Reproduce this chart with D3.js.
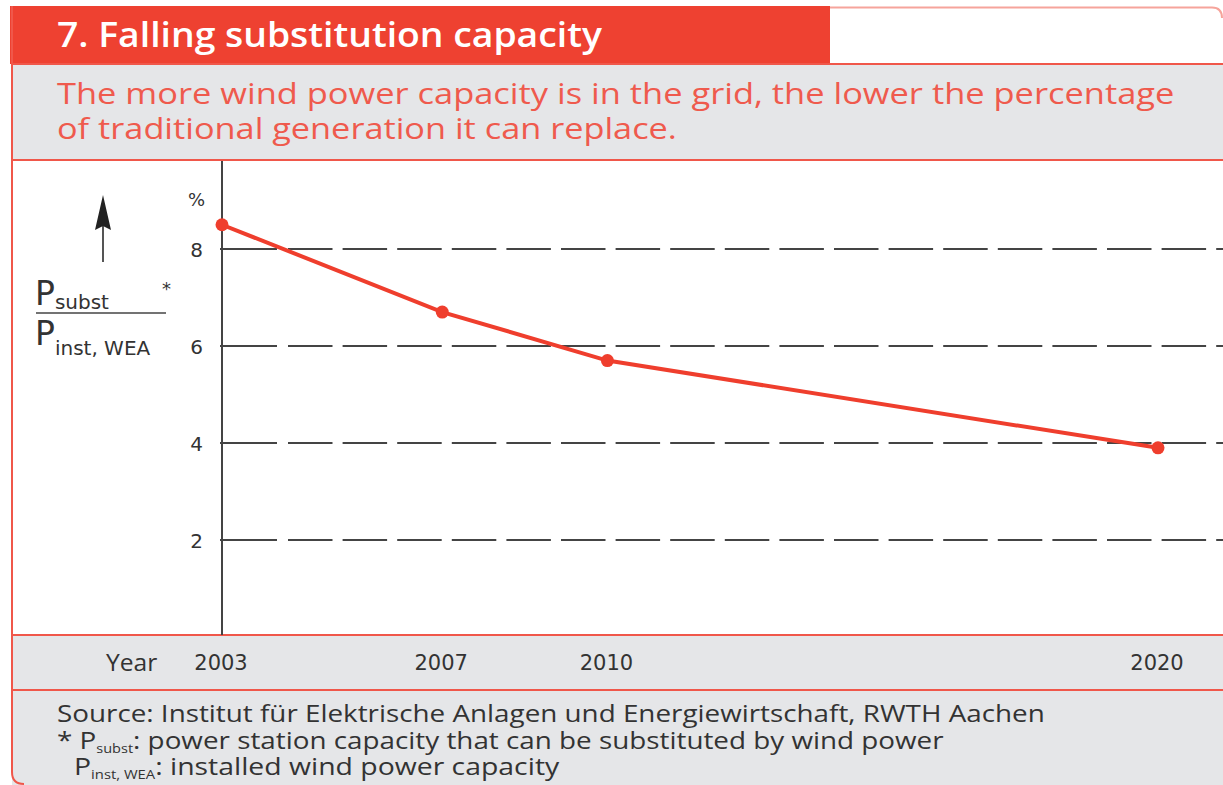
<!DOCTYPE html>
<html>
<head>
<meta charset="utf-8">
<script src="https://cdn.jsdelivr.net/npm/d3@7"></script>
<style>
  body { margin: 0; background: #fff; }
  svg { display: block; }
</style>
</head>
<body>
<svg id="chart" width="1223" height="785"></svg>
<script>
// chart values
const years = [2003, 2007, 2010, 2020];
const shares = [8.5, 6.7, 5.7, 3.9];
const yTicks = [2, 4, 6, 8];
const yearLabels = ["2003", "2007", "2010", "2020"];

const title = "7. Falling substitution capacity";
const subtitle = [
  "The more wind power capacity is in the grid, the lower the percentage",
  "of traditional generation it can replace."
];
const sourceText = "Source: Institut für Elektrische Anlagen und Energiewirtschaft, RWTH Aachen";

const RED = "#ee4131",
  BORDER = "#f0574a",
  GREY = "#e5e6e8",
  INK = "#333";

let svg = d3.select("#chart"),
  width = +svg.attr("width"),
  height = +svg.attr("height");

// squeeze a text element horizontally so it spans the given width
function fit(sel, x, w) {
  const bw = sel.node().getBBox().width;
  sel.attr("transform", `translate(${x},0) scale(${w / bw},1) translate(${-x},0)`);
  return sel;
}

// ---- frame ----
svg.append("path")
  .attr("d", `M12,7 H1212 Q1223,7 1223,18 V785 H12 Z`)
  .attr("fill", "#fff");
svg.append("rect").attr("x", 12).attr("y", 64).attr("width", width - 12).attr("height", 96).attr("fill", GREY);
svg.append("rect").attr("x", 12).attr("y", 635).attr("width", width - 12).attr("height", 150).attr("fill", GREY);
// top thin border on the right
svg.append("path")
  .attr("d", `M830,7.5 H1212 Q1222,7.5 1222,18`)
  .attr("fill", "none").attr("stroke", "#f6a49b").attr("stroke-width", 2);
// header
svg.append("rect").attr("x", 10).attr("y", 6).attr("width", 820).attr("height", 58).attr("fill", RED);
// horizontal red lines
[64, 160, 635, 690].forEach((y) => {
  svg.append("line").attr("x1", 12).attr("x2", width).attr("y1", y).attr("y2", y)
    .attr("stroke", BORDER).attr("stroke-width", 2);
});
// left border
svg.append("path")
  .attr("d", `M12,6 V772 Q12,784 24,784`)
  .attr("fill", "none").attr("stroke", BORDER).attr("stroke-width", 2);

// ---- titles ----
fit(svg.append("text").attr("x", 57).attr("y", 47)
  .attr("font-family", "Open Sans").attr("font-weight", 600).attr("font-size", 34)
  .attr("fill", "#fff").text(title), 57, 546);

subtitle.forEach((s, i) => {
  fit(svg.append("text").attr("x", 57).attr("y", 104 + i * 35)
    .attr("font-family", "Open Sans").attr("font-size", 30)
    .attr("fill", "#ef5a4d").text(s), 57, i === 0 ? 1118 : 620);
});

// ---- scales ----
let x = d3.scaleLinear().domain([2003, 2020]).range([222, 1158]);
let y = d3.scaleLinear().domain([0, 8]).range([637, 249]);

const plot = svg.append("g");

// gridlines: solid first segment, then dashes
yTicks.forEach((t) => {
  plot.append("line").attr("x1", x(2003) - 2).attr("x2", x(2003) + 55)
    .attr("y1", y(t)).attr("y2", y(t)).attr("stroke", "#444").attr("stroke-width", 2);
  plot.append("line").attr("x1", x(2003) + 66).attr("x2", width)
    .attr("y1", y(t)).attr("y2", y(t))
    .attr("stroke", "#444").attr("stroke-width", 2)
    .attr("stroke-dasharray", "44.5,10.1");
});

// y axis line
plot.append("line").attr("x1", x(2003)).attr("x2", x(2003))
  .attr("y1", 161).attr("y2", 635).attr("stroke", "#444").attr("stroke-width", 2);

// tick labels
plot.selectAll(".ytick").data(yTicks).enter().append("text")
  .attr("x", 203).attr("y", (d) => y(d) + 8)
  .attr("text-anchor", "end")
  .attr("font-family", "DejaVu Sans").attr("font-size", 20).attr("fill", INK)
  .text((d) => d);
plot.append("text").attr("x", 205).attr("y", 206).attr("text-anchor", "end")
  .attr("font-family", "DejaVu Sans").attr("font-size", 18).attr("fill", INK).text("%");

// line + points
const pts = years.map((yr, i) => [yr, shares[i]]);
plot.append("path").datum(pts)
  .attr("d", d3.line().x((d) => x(d[0])).y((d) => y(d[1])))
  .attr("fill", "none").attr("stroke", "#ef3e2d").attr("stroke-width", 4);
plot.selectAll(".dot").data(pts).enter().append("circle")
  .attr("cx", (d) => x(d[0])).attr("cy", (d) => y(d[1])).attr("r", 6.5)
  .attr("fill", "#ef3e2d");

// ---- y label (arrow + fraction) ----
const lab = svg.append("g").attr("fill", INK).attr("font-family", "DejaVu Sans");
lab.append("line").attr("x1", 103).attr("x2", 103).attr("y1", 262).attr("y2", 222)
  .attr("stroke", "#555").attr("stroke-width", 2);
lab.append("path").attr("d", "M103,195 L95,230 L103,226 L111,230 Z").attr("fill", "#222");
const num = lab.append("text").attr("x", 35).attr("y", 305).attr("font-size", 33);
num.append("tspan").text("P");
num.append("tspan").attr("font-size", 20).attr("dy", 4).text("subst");
lab.append("text").attr("x", 162).attr("y", 295).attr("font-size", 18).text("*");
lab.append("line").attr("x1", 36).attr("x2", 166).attr("y1", 313).attr("y2", 313)
  .attr("stroke", "#444").attr("stroke-width", 1.5);
const den = lab.append("text").attr("x", 35).attr("y", 345).attr("font-size", 33);
den.append("tspan").text("P");
den.append("tspan").attr("font-size", 20).attr("dy", 10).text("inst, WEA");

// ---- x labels ----
fit(svg.append("text").attr("x", 106).attr("y", 671)
  .attr("font-family", "Open Sans").attr("font-size", 23).attr("fill", INK).text("Year"), 106, 52);
svg.selectAll(".xtick").data(years).enter().append("text")
  .attr("x", (d) => x(d) - 1).attr("y", 670).attr("text-anchor", "middle")
  .attr("font-family", "DejaVu Sans").attr("font-size", 21).attr("fill", INK)
  .text((d, i) => yearLabels[i]);

// ---- footnotes ----
fit(svg.append("text").attr("x", 57).attr("y", 722)
  .attr("font-family", "Open Sans").attr("font-size", 23).attr("fill", INK)
  .text(sourceText), 57, 988);

const f2 = svg.append("text").attr("x", 57).attr("y", 749)
  .attr("font-family", "Open Sans").attr("font-size", 23).attr("fill", INK);
f2.append("tspan").text("* P");
f2.append("tspan").attr("font-size", 12).attr("dy", 4).text("subst");
f2.append("tspan").attr("dy", -4).text(": power station capacity that can be substituted by wind power");
fit(f2, 57, 888);

const f3 = svg.append("text").attr("x", 74).attr("y", 775)
  .attr("font-family", "Open Sans").attr("font-size", 23).attr("fill", INK);
f3.append("tspan").text("P");
f3.append("tspan").attr("font-size", 12).attr("dy", 4).text("inst, WEA");
f3.append("tspan").attr("dy", -4).text(": installed wind power capacity");
fit(f3, 74, 486);
</script>
</body>
</html>
